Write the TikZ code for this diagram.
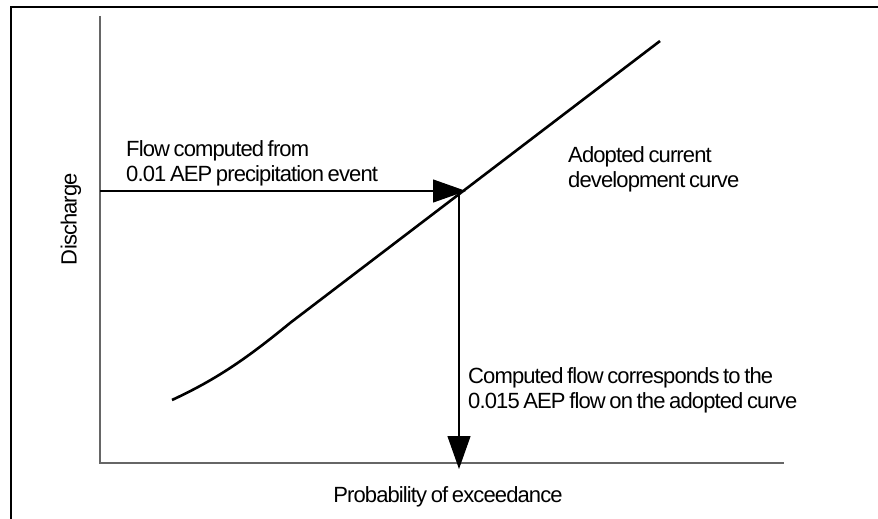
\documentclass[tikz,border=0pt]{standalone}
\usepackage{fontspec}
\setmainfont{Liberation Sans}[LetterSpace=-4,WordSpace=0.7]
\usetikzlibrary{arrows.meta}

\begin{document}
\begin{tikzpicture}[x=1pt,y=-1pt,
  lbl/.style={font=\fontsize{22}{25}\selectfont,inner sep=0pt,align=left},
  axis/.style={draw=black!60,line width=1.3pt},
  flow/.style={line width=1.2pt,-{Triangle[length=33pt,width=23pt]}}]
  \useasboundingbox (0,0) rectangle (878,519);
  % frame (only top and left edges show)
  \draw[line width=2.5pt] (11,519) -- (11,7) -- (878,7);

  % axes
  \coordinate (O) at (100,463);
  \coordinate (YT) at (100,16);
  \coordinate (XE) at (784,463);
  \draw[axis] (YT) -- (O) -- (XE);
  \node[lbl,rotate=90] (YL) at (71,219) {Discharge};
  \node[lbl] (XL) at (448,497) {Probability of exceedance};

  % adopted curve
  \draw[line width=2.6pt] (172,400) .. controls (215,380) and (245,360) .. (290,323) -- (660,41);
  \coordinate (Q) at (459,191);
  \coordinate (QY) at (100,191);
  \coordinate (QH) at (466,191);
  \coordinate (QX) at (459,469);

  % flows
  \draw[flow] (QY) -- (QH);
  \draw[flow] (Q) -- (QX);

  \node[lbl,anchor=base west] (F1) at (126,181) {Flow computed from\\0.01 AEP precipitation event};
  \node[lbl,anchor=base west] (C1) at (568,187) {Adopted current\\development curve};
  \node[lbl,anchor=base west] (F2) at (468,408) {Computed flow corresponds to the\\0.015 AEP flow on the adopted curve};
\end{tikzpicture}
\end{document}
